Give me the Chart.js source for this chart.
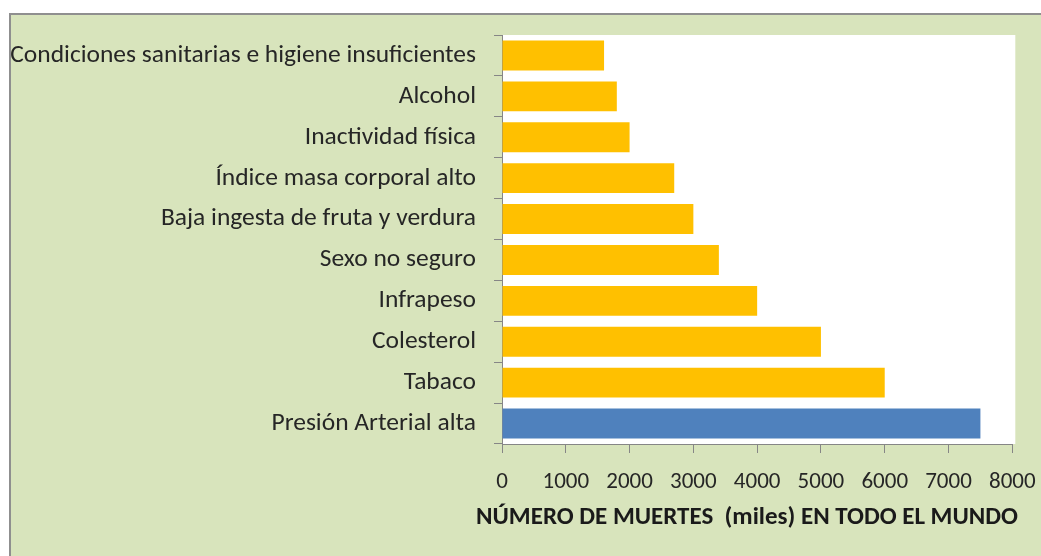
<!DOCTYPE html>
<html>
<head>
<meta charset="utf-8">
<script src="https://cdn.jsdelivr.net/npm/chart.js@4/dist/chart.umd.min.js"></script>
<style>
  html, body { margin: 0; padding: 0; background: #ffffff; }
  #wrap { position: relative; width: 1041px; height: 556px; overflow: hidden; }
  #frame { position: absolute; left: 9px; top: 13px; width: 1100px; height: 600px;
           background: #d8e4bc; border-top: 2px solid #8f8f8f; border-left: 2px solid #8f8f8f; }
  #c { position: absolute; left: 0; top: 0; }
</style>
</head>
<body>
<div id="wrap">
  <div id="frame"></div>
  <canvas id="c" width="1041" height="556"></canvas>
</div>
<script>
const categories = [
  "Condiciones sanitarias e higiene insuficientes",
  "Alcohol",
  "Inactividad física",
  "Índice masa corporal alto",
  "Baja ingesta de fruta y verdura",
  "Sexo no seguro",
  "Infrapeso",
  "Colesterol",
  "Tabaco",
  "Presión Arterial alta"
];
const deaths = [1600, 1800, 2000, 2700, 3000, 3400, 4000, 5000, 6000, 7500];
const xTicks = [0, 1000, 2000, 3000, 4000, 5000, 6000, 7000, 8000];
const xTitle = "NÚMERO DE MUERTES  (miles) EN TODO EL MUNDO";
const barColors = ["#FFC000","#FFC000","#FFC000","#FFC000","#FFC000","#FFC000","#FFC000","#FFC000","#FFC000","#4F81BD"];

const FONT = "Carlito, Calibri, Lato, 'Open Sans', sans-serif";
const TEXT = "#262626";
const AXIS = "#868686";

const plotBg = {
  id: 'plotBg',
  beforeDraw(chart) {
    const {ctx, chartArea: a} = chart;
    ctx.save();
    ctx.fillStyle = '#ffffff';
    ctx.fillRect(a.left, a.top, a.right + 3 - a.left, a.bottom - a.top);
    ctx.restore();
  }
};

const xTitlePlugin = {
  id: 'xTitlePlugin',
  afterDraw(chart) {
    const ctx = chart.ctx;
    ctx.save();
    ctx.font = "bold 25px " + FONT;
    ctx.fillStyle = "#1a1a1a";
    ctx.textAlign = 'center';
    ctx.textBaseline = 'alphabetic';
    ctx.fillText(xTitle, 747, 524);
    ctx.restore();
  }
};

new Chart(document.getElementById('c'), {
  type: 'bar',
  data: {
    labels: categories,
    datasets: [{
      data: deaths,
      backgroundColor: barColors,
      borderWidth: 0,
      barPercentage: 0.73,
      categoryPercentage: 1.0
    }]
  },
  options: {
    indexAxis: 'y',
    responsive: false,
    devicePixelRatio: 1,
    animation: false,
    layout: { padding: { top: 35, right: 28.7, bottom: 0, left: 0 } },
    plugins: { legend: { display: false }, tooltip: { enabled: false } },
    scales: {
      x: {
        min: 0, max: 8000,
        afterBuildTicks(scale) { scale.ticks = xTicks.map(v => ({ value: v })); },
        afterFit(scale) { scale.height = 112; scale.paddingLeft = 0; scale.paddingRight = 0; },
        grid: { drawOnChartArea: false, drawTicks: true, tickLength: 9, color: AXIS, lineWidth: 1 },
        border: { display: true, color: AXIS, width: 1 },
        ticks: { color: TEXT, font: { family: FONT, size: 23 }, padding: 15, maxRotation: 0, autoSkip: false,
                 callback: (v) => String(v) }
      },
      y: {
        afterFit(scale) { scale.width = 502; scale.paddingTop = 0; scale.paddingBottom = 0; },
        grid: { drawOnChartArea: false, drawTicks: true, tickLength: 8, color: AXIS, lineWidth: 1, offset: true },
        border: { display: true, color: AXIS, width: 1 },
        ticks: { color: TEXT, font: { family: FONT, size: 25.5 }, padding: 18, autoSkip: false }
      }
    }
  },
  plugins: [plotBg, xTitlePlugin]
});
</script>
</body>
</html>
